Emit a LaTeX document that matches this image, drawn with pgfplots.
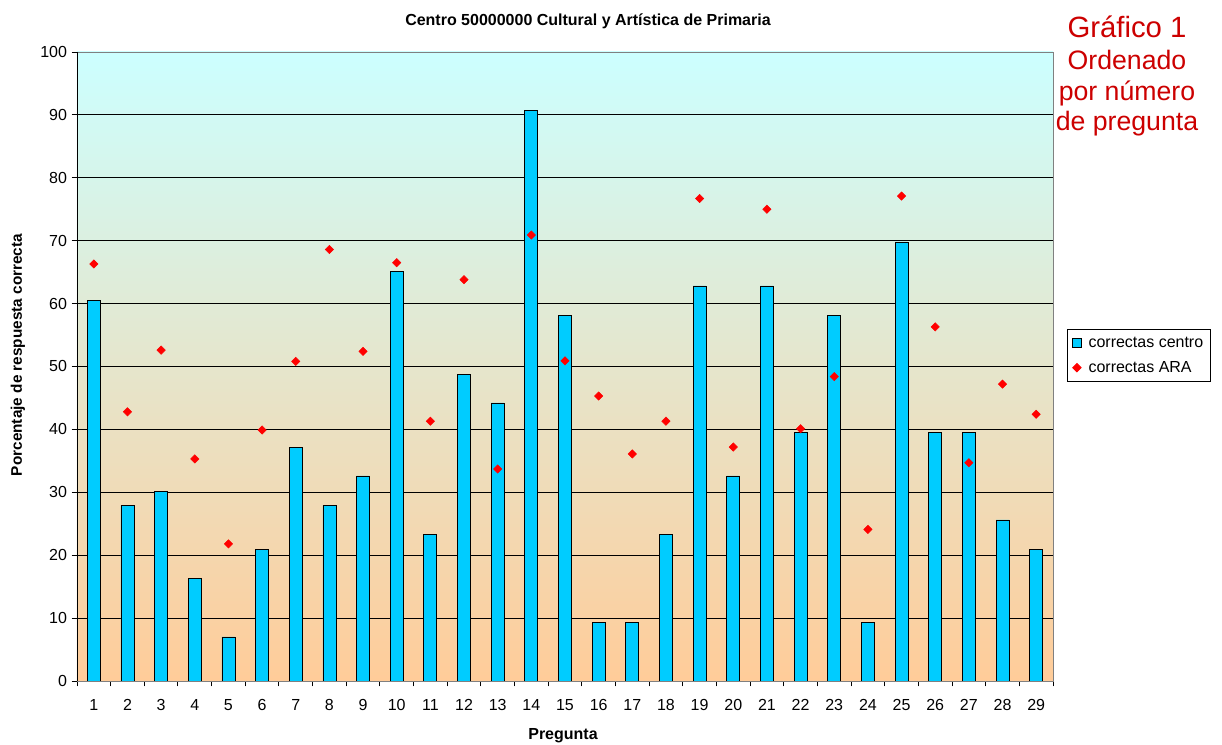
\documentclass[border=0pt]{standalone}
\usepackage{pgfplots}
\pgfplotsset{compat=1.18}
\usepackage{fontspec}
\setmainfont{Liberation Sans}
\definecolor{barblue}{RGB}{0,204,255}
\definecolor{bgtop}{RGB}{204,255,255}
\definecolor{bgbot}{RGB}{255,204,153}
\definecolor{darkred}{RGB}{204,0,0}
\begin{document}
\begin{tikzpicture}[x=1pt,y=1pt]
\useasboundingbox (0,0) rectangle (916.5,558.75);
\begin{axis}[
  at={(57.75pt,48pt)}, anchor=south west,
  scale only axis, width=732pt, height=471.75pt,
  xmin=0.5, xmax=29.5, ymin=0, ymax=100,
  ytick={0,10,...,100},
  xtick={0.5,1.5,...,29.5}, xticklabels={},
  extra x ticks={1,...,29},
  extra x tick style={major tick length=0pt, xticklabel style={yshift=-10pt}},
  xtick pos=bottom, ytick pos=left,
  tick align=outside, major tick length=4pt,
  tick style={black, line width=0.7pt},
  tick label style={font=\fontsize{12}{14}\selectfont},
  /pgf/number format/assume math mode=true,
  ymajorgrids, major grid style={black, line width=0.7pt},
  axis line style={draw=gray, line width=0.7pt},
  axis background/.style={top color=bgtop, bottom color=bgbot},
  legend style={at={(1,0.5175)}, anchor=west, xshift=10.5pt, draw=black, line width=0.7pt, fill=white,
    font=\fontsize{12}{14}\selectfont, row sep=5pt, inner sep=3.5pt},
  legend cell align=left,
]
\addplot[ybar, bar width=9.75pt, fill=barblue, draw=black, line width=0.6pt,
  legend image code/.code={\draw[fill=barblue, draw=black, line width=0.6pt] (0pt,-3.3pt) rectangle (6.6pt,3.3pt); \path[draw=none, fill=none] (0pt,0pt) rectangle (10pt,0.1pt);}]
coordinates {
(1,60.5) (2,27.9) (3,30.2) (4,16.3) (5,7.0) (6,20.9) (7,37.2) (8,27.9) (9,32.6) (10,65.1)
(11,23.3) (12,48.8) (13,44.2) (14,90.7) (15,58.1) (16,9.3) (17,9.3) (18,23.3) (19,62.8) (20,32.6)
(21,62.8) (22,39.5) (23,58.1) (24,9.3) (25,69.8) (26,39.5) (27,39.5) (28,25.6) (29,20.9)
};
\addlegendentry{correctas centro}
\addplot[only marks, mark=square*, mark size=2.2pt, color=red, mark options={rotate=45, fill=red, draw=red},
  legend image code/.code={\draw[red] plot[mark=square*, mark size=2.2pt, mark options={rotate=45, fill=red}] coordinates {(3.3pt,0pt)}; \path[draw=none, fill=none] (0pt,0pt) rectangle (10pt,0.1pt);}]
coordinates {
(1,66.3) (2,42.8) (3,52.6) (4,35.3) (5,21.8) (6,39.9) (7,50.8) (8,68.6) (9,52.4) (10,66.5)
(11,41.3) (12,63.8) (13,33.7) (14,70.9) (15,50.9) (16,45.3) (17,36.1) (18,41.3) (19,76.7) (20,37.2)
(21,75.0) (22,40.1) (23,48.4) (24,24.1) (25,77.1) (26,56.3) (27,34.7) (28,47.2) (29,42.4)
};
\addlegendentry{correctas ARA}
\draw[black, line width=0.7pt] (rel axis cs:0,0) -- (rel axis cs:0,1);
\draw[black, line width=0.7pt] (rel axis cs:0,0) -- (rel axis cs:1,0);
\end{axis}
\node[font=\fontsize{12}{14}\selectfont\bfseries, anchor=base] at (441,539.25) {Centro 50000000 Cultural y Artística de Primaria};
\node[font=\fontsize{11.5}{14}\selectfont\bfseries, rotate=90, anchor=center] at (13.5,292.5) {Porcentaje de respuesta correcta};
\node[font=\fontsize{12}{14}\selectfont\bfseries, anchor=base] at (422.25,3.75) {Pregunta};
\node[darkred, font=\fontsize{22}{26}\selectfont, anchor=base] at (845.25,530.25) {Gráfico 1};
\node[darkred, font=\fontsize{20}{24}\selectfont, anchor=base] at (845.25,506.25) {Ordenado};
\node[darkred, font=\fontsize{20}{24}\selectfont, anchor=base] at (845.25,483) {por número};
\node[darkred, font=\fontsize{20}{24}\selectfont, anchor=base] at (845.25,460.5) {de pregunta};
\end{tikzpicture}
\end{document}
